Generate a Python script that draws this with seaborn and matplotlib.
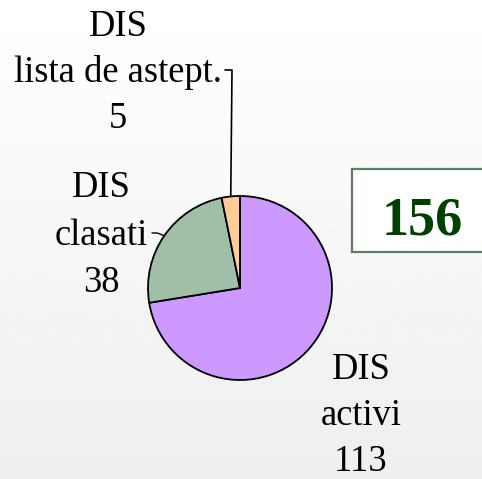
import numpy as np
import matplotlib
matplotlib.use("Agg")
import matplotlib.pyplot as plt
from matplotlib.patches import Rectangle
import seaborn as sns

# ---- data ----
categories = ["activi", "clasati", "lista de astept."]
values = [113, 38, 5]
prefix = "DIS"
total_label = "156"
colors = ["#CC99FF", "#A0BEA8", "#FFCC99"]

sns.set_theme(style="white")
plt.rcParams['font.family'] = ['Liberation Serif', 'DejaVu Serif']

W, H = 482, 479
fig = plt.figure(figsize=(W / 100, H / 100), dpi=100)
ax = fig.add_axes([0, 0, 1, 1])
ax.set_xlim(0, W)
ax.set_ylim(0, H)
ax.axis("off")

# background gradient
grad = np.linspace(1.0, 0.935, 256).reshape(-1, 1)
ax.imshow(grad, extent=(0, W, 0, H), cmap="gray", vmin=0, vmax=1,
          aspect="auto", origin="upper", zorder=0)

cx, cy, r = 240, H - 288, 92
wedges, _ = ax.pie(values, colors=colors, startangle=90, counterclock=False,
                   center=(cx, cy), radius=r, frame=True,
                   wedgeprops=dict(edgecolor="black", linewidth=1.3))
for w in wedges:
    w.set_zorder(2)
ax.set_xlim(0, W)
ax.set_ylim(0, H)
ax.axis("off")

def edge_point(w):
    ang = np.deg2rad((w.theta1 + w.theta2) / 2)
    return cx + r * np.cos(ang), cy + r * np.sin(ang)

fs = 26.3
def label(x, baselines, lines):
    for yb, t in zip(baselines, lines):
        ax.text(x, H - yb, t, ha="center", va="baseline", fontsize=fs,
                color="black", zorder=3)

# activi
label(361, [379, 425, 471], [prefix, categories[0], str(values[0])])
# clasati
label(101, [197, 245, 292], [prefix, categories[1], str(values[1])])
ex, ey = edge_point(wedges[1])
ax.plot([ex, ex - 7, 152], [ey, H - 233, H - 233], color="black", lw=1, zorder=3)
# lista
label(118, [36, 82, 128], [prefix, categories[2], str(values[2])])
ex, ey = edge_point(wedges[2])
ax.plot([ex, 232, 225], [ey, H - 70, H - 70], color="black", lw=1.2, zorder=3)

# total box
ax.add_patch(Rectangle((352, H - 252), 140, 83, facecolor="white",
                       edgecolor="#5E7E60", linewidth=1.6, zorder=2))
ax.text(422.5, H - 234, total_label, ha="center", va="baseline", fontsize=39,
        fontweight="bold", color="#004000", zorder=3)

fig.savefig("out.png", dpi=100)
